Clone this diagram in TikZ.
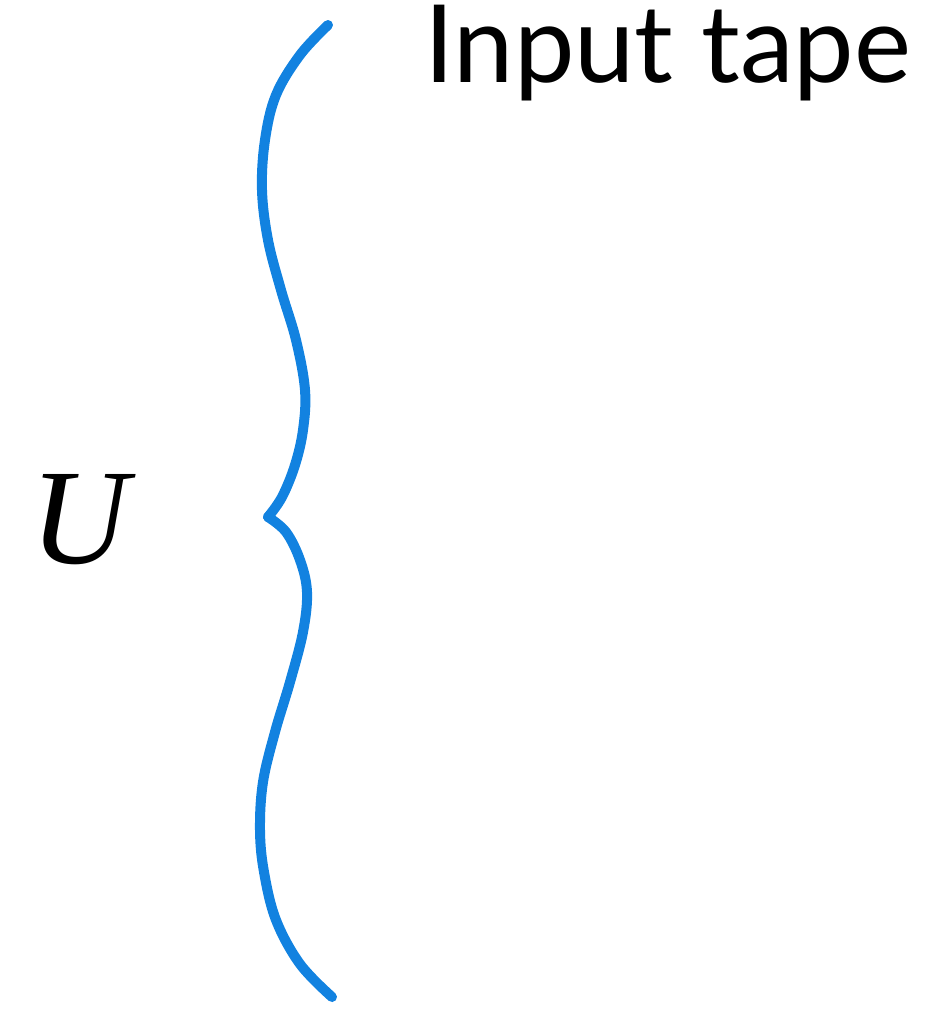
\documentclass[tikz,border=0pt]{standalone}
\usepackage{fontspec}
\newfontfamily\labelfont{Lato}
\newfontfamily\symfont{Liberation Serif}
\definecolor{braceblue}{RGB}{18,130,224}
\begin{document}
\begin{tikzpicture}[x=0.5pt,y=-0.5pt,brace/.style={draw=braceblue,line width=5pt,line cap=round,line join=round},title/.style={inner sep=0pt,anchor=base west,font=\labelfont\fontsize{54}{62}\selectfont},sym/.style={inner sep=0pt,anchor=base,font=\symfont\itshape\fontsize{68}{80}\selectfont}]
\useasboundingbox (0,0) rectangle (934,1009);
\coordinate (T) at (328,25);
\coordinate (M) at (268,517);
\coordinate (B) at (332,997);
\draw[brace] plot[smooth,tension=0.6] coordinates {(T) (300,55) (276,95) (265,140) (262,190) (268,240) (281,290) (296,340) (305,390) (303,430) (295,465) (282,497) (M)};
\draw[brace] plot[smooth,tension=0.6] coordinates {(M) (286,532) (300,560) (307,592) (303,632) (290,682) (275,732) (263,782) (260,830) (264,872) (276,920) (300,964) (B)};
\node[title] (tape) at (424,82) {Input tape};
\node[sym] (u) at (80,563) {U};
\end{tikzpicture}
\end{document}
